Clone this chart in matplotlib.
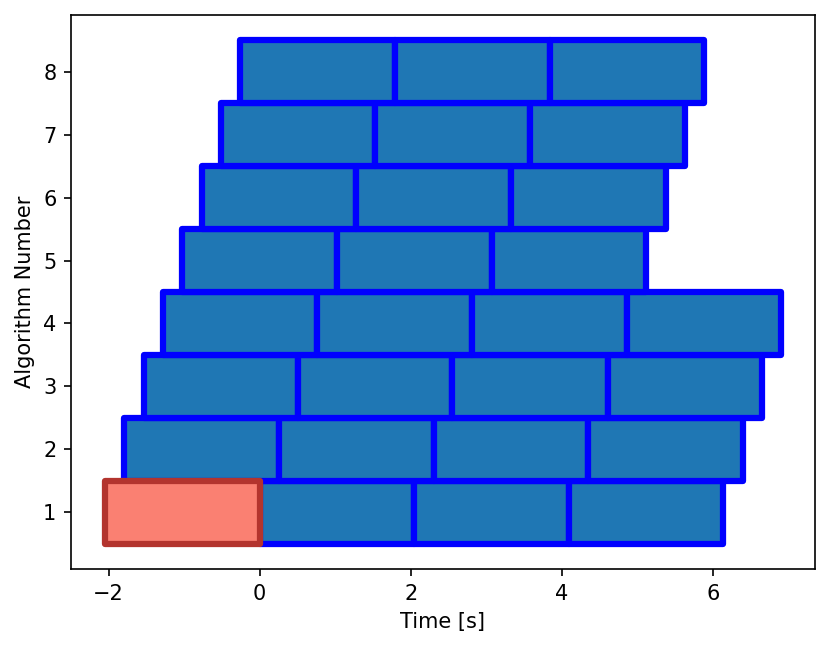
import matplotlib
matplotlib.use("Agg")
import matplotlib.pyplot as plt

# Algorithm rows (y positions)
algorithms = [1, 2, 3, 4, 5, 6, 7, 8]

# Start times of the blue segments for each algorithm row
blue_starts = [
    [0.00, 2.04, 4.09],
    [-1.80, 0.25, 2.30, 4.34],
    [-1.53, 0.50, 2.55, 4.61],
    [-1.28, 0.76, 2.81, 4.86],
    [-1.03, 1.02, 3.07],
    [-0.77, 1.27, 3.32],
    [-0.51, 1.53, 3.58],
    [-0.26, 1.79, 3.84],
]
# End times of the last segment of each row
blue_ends = [6.13, 6.395, 6.65, 6.90, 5.11, 5.375, 5.63, 5.88]

# Highlighted (red) segment on algorithm 1
red_start = -2.05
red_end = 0.0

fig = plt.figure(figsize=(830 / 150, 647 / 150), dpi=150)
ax = fig.add_axes([71 / 830, (647 - 569) / 647, 744 / 830, 554 / 647])

for y, starts, end in zip(algorithms, blue_starts, blue_ends):
    bounds = starts + [end]
    segs = [(bounds[i], bounds[i + 1] - bounds[i]) for i in range(len(starts))]
    ax.broken_barh(segs, (y - 0.5, 1.0), facecolors="#1f77b4",
                   edgecolors="blue", linewidth=3)

ax.broken_barh([(red_start, red_end - red_start)], (algorithms[0] - 0.5, 1.0),
               facecolors="salmon", edgecolors="#b3342e", linewidth=3)

ax.set_xlabel("Time [s]")
ax.set_ylabel("Algorithm Number")
ax.set_yticks(algorithms)

fig.savefig("out.png", dpi=150)
